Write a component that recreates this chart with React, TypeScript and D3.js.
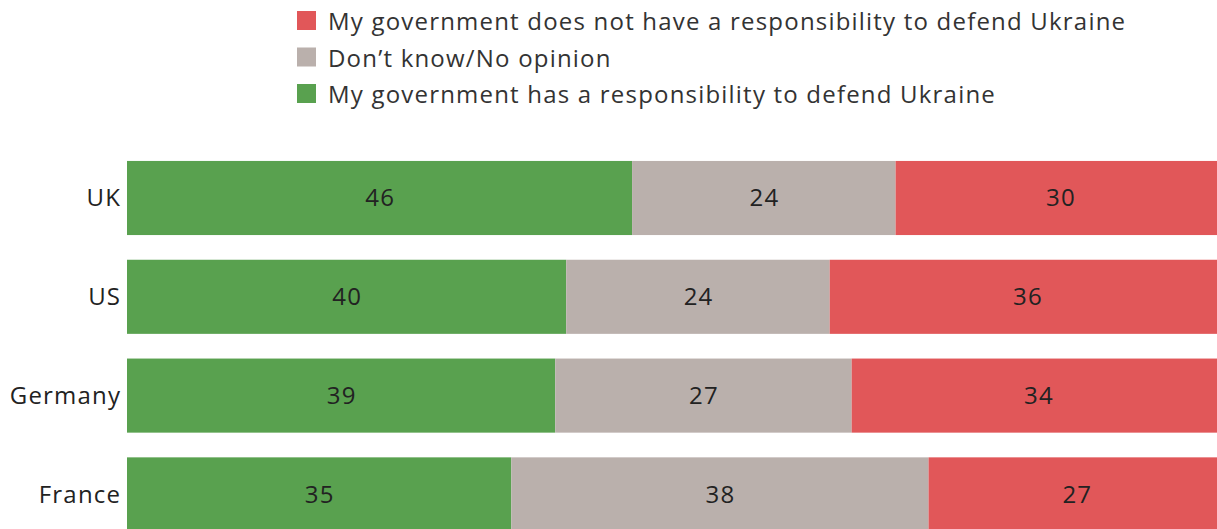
import React from "react";
import * as d3 from "d3";

const countries = ["UK", "US", "Germany", "France"];
const hasResponsibility = [46, 40, 39, 35];
const dontKnow = [24, 24, 27, 38];
const noResponsibility = [30, 36, 34, 27];

const seriesKeys = ["has", "dk", "not"];
const seriesColors = ["#59A14F", "#BAB0AC", "#E15759"];
const legendLabels = [
  "My government does not have a responsibility to defend Ukraine",
  "Don\u2019t know/No opinion",
  "My government has a responsibility to defend Ukraine",
];
const legendColors = ["#E15759", "#BAB0AC", "#59A14F"];

const W = 1217;
const H = 529;
const FONT = "'Open Sans', sans-serif";
const LS = 1.2;

export default function App() {
  const rows = countries.map((c, i) => ({
    country: c,
    has: hasResponsibility[i],
    dk: dontKnow[i],
    not: noResponsibility[i],
  }));
  const stack = d3.stack<any>().keys(seriesKeys)(rows);

  const x = d3.scaleLinear().domain([0, 100]).range([127, 1225]);
  const y = d3
    .scaleBand<string>()
    .domain(countries)
    .range([148.6, 543.8])
    .paddingInner(0.25)
    .paddingOuter(0.125);

  return (
    <svg
      width={W}
      height={H}
      style={{ position: "absolute", left: 0, top: 0, display: "block" }}
      fontFamily={FONT}
      letterSpacing={LS}
    >
      <rect width={W} height={H} fill="#fff" />
      {legendLabels.map((t, i) => (
        <g key={t} transform={`translate(297, ${11 + i * 36.5})`}>
          <rect width={19} height={19} fill={legendColors[i]} />
          <text x={31} y={19} fontSize={24} fill="#333">
            {t}
          </text>
        </g>
      ))}
      {stack.map((s, si) => (
        <g key={s.key} fill={seriesColors[si]}>
          {s.map((d, di) => (
            <rect
              key={di}
              x={x(d[0])}
              y={y(countries[di])!}
              width={x(d[1]) - x(d[0])}
              height={y.bandwidth()}
            />
          ))}
        </g>
      ))}
      {stack.map((s, si) =>
        s.map((d, di) => (
          <text
            key={`${si}-${di}`}
            x={(x(d[0]) + x(d[1])) / 2 + LS / 2}
            y={y(countries[di])! + y.bandwidth() / 2}
            dy="0.35em"
            textAnchor="middle"
            fontSize={24}
            fill="#222"
          >
            {d[1] - d[0]}
          </text>
        ))
      )}
      {countries.map((c) => (
        <text
          key={c}
          x={120 + LS}
          y={y(c)! + y.bandwidth() / 2}
          dy="0.35em"
          textAnchor="end"
          fontSize={24}
          fill="#222"
        >
          {c}
        </text>
      ))}
    </svg>
  );
}
